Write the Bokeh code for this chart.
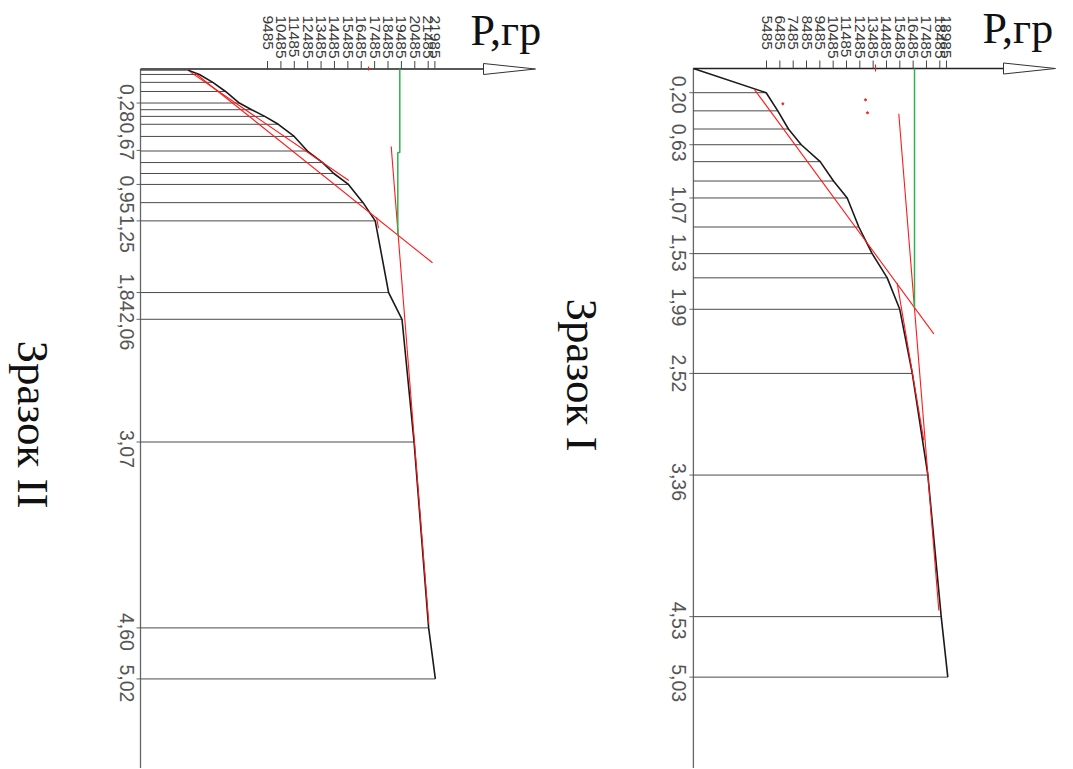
import math
from bokeh.plotting import figure
from bokeh.models import Range1d
from bokeh.core.properties import value
from bokeh.embed import file_html
from bokeh.resources import INLINE

# ---------------- data: Зразок II (left panel) ----------------
s2_load = [3560, 4400, 5400, 6350, 7380, 8300, 9280, 10290, 11480, 12470,
           13600, 14440, 15530, 16620, 17530, 18530, 19530, 20430, 21520, 22020]
s2_depth = [0.01, 0.045, 0.11, 0.185, 0.28, 0.335, 0.39, 0.455, 0.555, 0.675,
            0.77, 0.86, 0.95, 1.10, 1.25, 1.84, 2.06, 3.07, 4.60, 5.02]
s2_ticks = [9485, 10485, 11485, 12485, 13485, 14485, 15485, 16485, 17485,
            18485, 19485, 20485, 21485, 21985]
s2_depth_labels = [0.28, 0.67, 0.95, 1.25, 1.84, 2.06, 3.07, 4.60, 5.02]
s2_red_x0 = [3734, 4108, 18723, 17625, 17028]
s2_red_y0 = [0.026, 0.037, 0.638, 1.22, -0.02]
s2_red_x1 = [15557, 21807, 21531, 17775, 17028]
s2_red_y1 = [0.918, 1.595, 4.566, 1.31, 0.012]
s2_green_load = [19365, 19365, 19216, 19216]
s2_green_depth = [0.0, 0.687, 0.687, 1.37]

# ---------------- data: Зразок I (right panel) ----------------
s1_load = [0, 5460, 6330, 7130, 8090, 9510, 10510, 11540, 12410, 13410,
           14540, 15480, 16420, 17590, 18590, 19085]
s1_depth = [0.0, 0.20, 0.35, 0.50, 0.63, 0.77, 0.93, 1.07, 1.31, 1.53,
            1.73, 1.99, 2.52, 3.36, 4.53, 5.03]
s1_ticks = [5485, 6485, 7485, 8485, 9485, 10485, 11485, 12485, 13485,
            14485, 15485, 16485, 17485, 18485, 18985]
s1_depth_labels = [0.20, 0.63, 1.07, 1.53, 1.99, 2.52, 3.36, 4.53, 5.03]
s1_red_x0 = [4584, 15409, 15289, 13661]
s1_red_y0 = [0.174, 0.374, 1.774, -0.033]
s1_red_x1 = [18035, 18410, 17284, 13661]
s1_red_y1 = [2.193, 4.479, 3.074, 0.025]
s1_red_dot_x = [6707, 12911, 13061]
s1_red_dot_y = [0.292, 0.259, 0.366]
s1_green_load = [16587, 16587]
s1_green_depth = [0.0, 1.979]

# ---------------- layout (page pixels) ----------------
W, H, PAGE = 1072, 768, 0
# pixel nudges of the depth labels along the axis (label layout only)
s2_label_nudge = [0, -9, 10, 13, 0, 12, 7, 4, 4.5]
s1_label_nudge = [2, -2, 7, -1, -2, 0, 7, 4, 6]

def xr(x0, sx):
    return Range1d((PAGE - x0) / sx, (PAGE + W - x0) / sx)

def yr(y0, sy):
    return Range1d(start=(PAGE + H - y0) / sy, end=(PAGE - y0) / sy)

panels = [
    dict(name="II", xn="default", yn="default", x0=140.0, sx=0.01339, y0=68.5, sy=121.5,
         load=s2_load, depth=s2_depth, ticks=s2_ticks, dlabels=s2_depth_labels,
         nudge=s2_label_nudge,
         rx0=s2_red_x0, ry0=s2_red_y0, rx1=s2_red_x1, ry1=s2_red_y1,
         dotx=[], doty=[], gx=s2_green_load, gy=s2_green_depth,
         arrow_base=483, arrow_tip=535, dlabel_dx=-13.3,
         title="Зразок II", title_x=32, title_y=424, p_x=470, p_y=30),
    dict(name="I", xn="p1", yn="d1", x0=692.9, sx=0.01333, y0=68.0, sy=121.0,
         load=s1_load, depth=s1_depth, ticks=s1_ticks, dlabels=s1_depth_labels,
         nudge=s1_label_nudge,
         rx0=s1_red_x0, ry0=s1_red_y0, rx1=s1_red_x1, ry1=s1_red_y1,
         dotx=s1_red_dot_x, doty=s1_red_dot_y, gx=s1_green_load, gy=s1_green_depth,
         arrow_base=1003, arrow_tip=1055, dlabel_dx=-14.7,
         title="Зразок I", title_x=581, title_y=374.5, p_x=982, p_y=28),
]

pa, pb = panels
p = figure(width=W, height=H, output_backend="svg", toolbar_location=None,
           x_axis_type=None, y_axis_type=None,
           x_range=xr(pa["x0"], pa["sx"]), y_range=yr(pa["y0"], pa["sy"]),
           min_border=0, outline_line_color=None)
p.extra_x_ranges = {"p1": xr(pb["x0"], pb["sx"])}
p.extra_y_ranges = {"d1": yr(pb["y0"], pb["sy"])}
p.background_fill_color = "white"
p.border_fill_color = "white"
p.xgrid.visible = False
p.ygrid.visible = False

SANS = value("Liberation Sans")
SERIF = value("Liberation Serif")

for c in panels:
    kw = dict(x_range_name=c["xn"], y_range_name=c["yn"])
    sx, sy, x0, y0 = c["sx"], c["sy"], c["x0"], c["y0"]
    X = lambda px: (px - x0) / sx     # page x -> load
    Y = lambda py: (py - y0) / sy     # page y -> depth
    bottom = Y(PAGE + H)

    # vertical axis
    p.segment(x0=[0], y0=[0], x1=[0], y1=[bottom], line_color="#666666", line_width=1.3, **kw)
    # horizontal axis + open arrow
    p.segment(x0=[0], y0=[0], x1=[X(c["arrow_base"])], y1=[0], line_color="#222222", line_width=1.5, **kw)
    p.patch(x=[X(c["arrow_base"]), X(c["arrow_base"]), X(c["arrow_tip"])],
            y=[Y(y0 - 5.5), Y(y0 + 5.5), 0], fill_color="white",
            line_color="#333333", line_width=1, **kw)
    # ticks + tick labels on load axis
    nt = len(c["ticks"])
    p.segment(x0=c["ticks"], y0=[0] * nt, x1=c["ticks"], y1=[Y(y0 - 8)] * nt,
              line_color="#444444", line_width=1, **kw)
    p.text(x=c["ticks"], y=[Y(15)] * nt, text=[str(t) for t in c["ticks"]],
           angle=-math.pi / 2, text_align="left", text_baseline="middle",
           text_font=SANS, text_font_size="15.5px", text_color="#3a3a3a", **kw)
    # depth labels with small ticks
    nd = len(c["dlabels"])
    p.segment(x0=[X(x0 - 4)] * nd, y0=c["dlabels"], x1=[0] * nd, y1=c["dlabels"],
              line_color="#666666", line_width=1, **kw)
    p.text(x=[X(x0 + c["dlabel_dx"])] * nd,
           y=[d + n_px / sy for d, n_px in zip(c["dlabels"], c["nudge"])],
           text=[f"{d:.2f}".replace(".", ",") for d in c["dlabels"]],
           angle=-math.pi / 2, text_align="center", text_baseline="middle",
           text_font=SANS, text_font_size="19.5px", text_color="#555555", **kw)
    # horizontal lines from axis to curve
    n = len(c["load"])
    p.segment(x0=[0] * n, y0=c["depth"], x1=c["load"], y1=c["depth"],
              line_color="#4a4a4a", line_width=1, **kw)
    # curve
    p.line(x=c["load"], y=c["depth"], line_color="#1a1a1a", line_width=1.6, **kw)
    # red tangents
    p.segment(x0=c["rx0"], y0=c["ry0"], x1=c["rx1"], y1=c["ry1"],
              line_color="#ff1a1a", line_width=1.1, **kw)
    if c["dotx"]:
        p.scatter(x=c["dotx"], y=c["doty"], size=2, color="#ff1a1a", **kw)
    # green vertical
    p.line(x=c["gx"], y=c["gy"], line_color="#2fb34a", line_width=1.5, **kw)
    # titles
    p.text(x=[X(c["title_x"])], y=[Y(c["title_y"])], text=[c["title"]],
           angle=-math.pi / 2, text_align="center", text_baseline="alphabetic",
           text_font=SERIF, text_font_size="45px", text_color="#111111", **kw)
    p.text(x=[X(c["p_x"])], y=[Y(c["p_y"])], text=["P,гр"],
           text_align="left", text_baseline="alphabetic",
           text_font=SERIF, text_font_size="44px", text_color="#111111", **kw)

open("out.html", "w").write(file_html(p, INLINE))
